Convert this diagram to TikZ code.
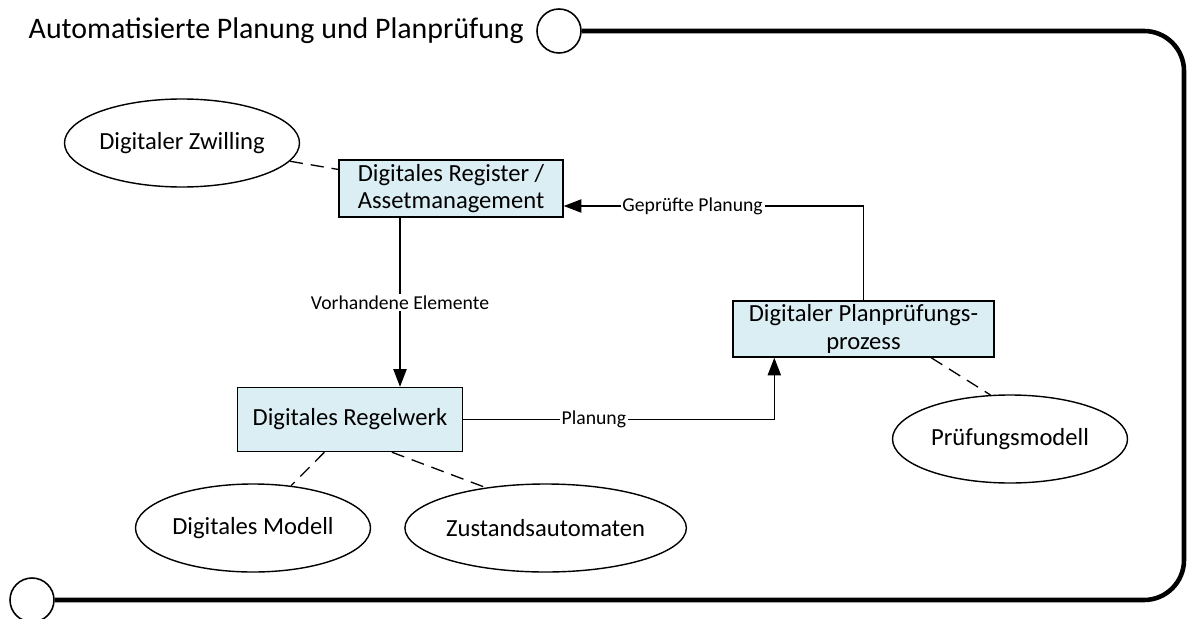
\documentclass[tikz,border=0pt]{standalone}
\usepackage{fontspec}
\setmainfont{Carlito}
\usetikzlibrary{arrows.meta,shapes.geometric,positioning,calc}
\definecolor{boxfill}{RGB}{219,238,244}
\tikzset{
	block/.style={
		rectangle,
		draw,
		line width=0.8pt,
		fill=boxfill,
		align=center,
		inner sep=2pt,
		font=\fontsize{14}{15.5}\selectfont,
	},
	usecase/.style={
		ellipse,
		draw,
		line width=0.8pt,
		minimum width=4.7cm,
		minimum height=1.76cm,
		inner sep=0pt,
		font=\fontsize{14}{15}\selectfont,
	},
	link/.style={
		-{Triangle[length=10pt,width=7.5pt]},
		line width=0.75pt,
	},
	assoc/.style={
		dash pattern=on 7.5pt off 4.5pt,
		line width=0.75pt,
	},
	lbl/.style={
		fill=white,
		inner sep=1pt,
		font=\fontsize{11.2}{12}\selectfont,
	},
	port/.style={
		circle,
		draw,
		line width=0.9pt,
		minimum size=0.88cm,
		inner sep=0pt,
	},
	frame/.style={
		line width=2.6pt,
		rounded corners=0.8cm,
	},
}

\begin{document}
\begin{tikzpicture}

\useasboundingbox (0,0) rectangle (23.74,-12.36);

% frame
\node[port] (pin) at (11.18,-0.62) {};
\node[inner sep=0pt,font=\fontsize{17}{18}\selectfont] (title) [left=0.24cm of pin] {Automatisierte Planung und Planprüfung};
\node[port] (pout) at (0.64,-12.0) {};
\coordinate (fside) at (23.68,-6);

\draw[frame] 
  (pin.east) 
  -| 
  (fside) 
  |- 
  (pout.east);

% process blocks
\node[block,minimum width=4.48cm,minimum height=1.14cm] (reg) at (9.02,-3.77) {Digitales Register /\\Assetmanagement};
\node[block,minimum width=4.5cm,minimum height=1.28cm] (regel) at (7.0,-8.39) {Digitales Regelwerk};
\node[block,minimum width=5.22cm,minimum height=1.12cm] (pp) at (17.27,-6.58) {Digitaler Planprüfungs-\\prozess};

% models
\node[usecase] (zw) at (3.64,-2.86) {Digitaler Zwilling};
\node[usecase] (dm) at (5.06,-10.56) {Digitales Modell};
\node[usecase] (za) [right=0.66cm of dm] {Zustandsautomaten};
\node[usecase] (pm) at (20.2,-8.78) {Prüfungsmodell};

\coordinate (vcol) at (8.0,0);

\draw[link] 
  (reg.south -| vcol) 
  -- 
  node[lbl]{Vorhandene Elemente} 
  (regel.north -| vcol);

\draw[link] 
  (regel.east) 
  -| 
  node[lbl,pos=0.21]{Planung} 
  ($(pp.south west)+(0.84,0)$);

\draw[link] 
  (pp.north) 
  |- 
  node[lbl,pos=0.785]{Geprüfte Planung} 
  ($(reg.east)+(0,-0.35)$);

\draw[assoc] (zw) -- (reg);
\draw[assoc] (regel.232) -- (dm.48);
\draw[assoc] (regel.-38) -- (za.146);
\draw[assoc] (pp.-23) -- (pm.114);

\end{tikzpicture}
\end{document}
